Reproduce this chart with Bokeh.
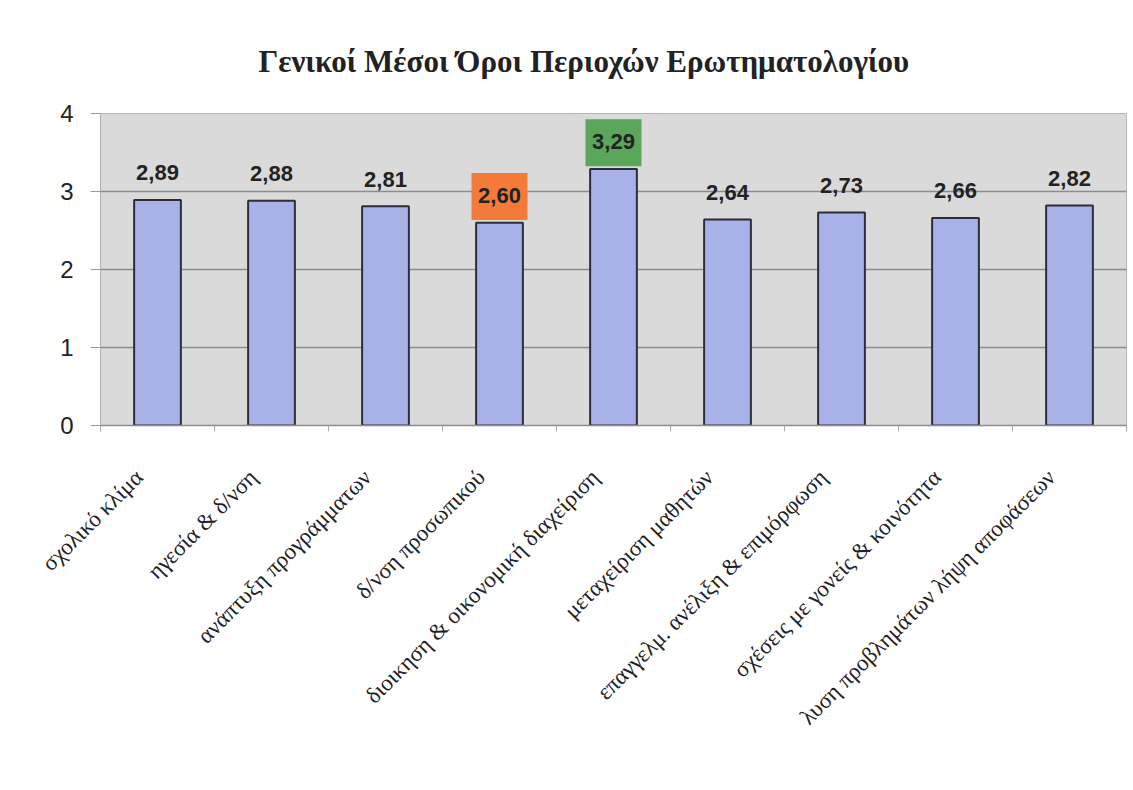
import math
from bokeh.plotting import figure
from bokeh.models import ColumnDataSource, Range1d, FixedTicker
from bokeh.transform import dodge
from bokeh.core.properties import value
from bokeh.embed import file_html
from bokeh.resources import INLINE

title = "Γενικοί Μέσοι Όροι Περιοχών Ερωτηματολογίου"
categories = [
    "σχολικό κλίμα",
    "ηγεσία & δ/νση",
    "ανάπτυξη προγράμματων",
    "δ/νση προσωπικού",
    "διοικηση & οικονομική διαχείριση",
    "μεταχείριση μαθητών",
    "επαγγελμ. ανέλιξη & επιμόρφωση",
    "σχέσεις με γονείς & κοινότητα",
    "λυση προβλημάτων λήψη αποφάσεων",
]
values = [2.89, 2.88, 2.81, 2.60, 3.29, 2.64, 2.73, 2.66, 2.82]
highlight = {"2,60": "#f47a3a", "3,29": "#5aa65a"}
y_ticks = [0, 1, 2, 3, 4]

n = len(categories)
pos = [i + 0.5 for i in range(n)]  # slot centres on a numeric category axis
labels = [f"{v:.2f}".replace(".", ",") for v in values]
src = ColumnDataSource(dict(x=pos, val=values, lab=labels))
hl_idx = [i for i, l in enumerate(labels) if l in highlight]
hsrc = ColumnDataSource(dict(
    x=[pos[i] for i in hl_idx],
    val=[values[i] for i in hl_idx],
    color=[highlight[labels[i]] for i in hl_idx],
))

W, H = 1130, 785
p = figure(width=W, height=H, x_range=Range1d(0, n), y_range=Range1d(0, 4),
           output_backend="svg", toolbar_location=None,
           min_border_left=100, min_border_right=W - 1126, min_border_top=113,
           min_border_bottom=H - 425)

p.title.text = title
p.title.text_font = "Liberation Serif"
p.title.text_font_size = "31px"
p.title.text_font_style = "bold"
p.title.text_color = "#222222"
p.title.align = "left"
p.title.standoff = 69
p.title.offset = 158

p.background_fill_color = "#dadada"
p.border_fill_color = "white"
p.outline_line_color = "#b5b5b5"

p.vbar(x="x", top="val", width=0.41, source=src, fill_color="#a9b1e9",
       line_color="#2b2d3a", line_width=2)

p.rect(x="x", y=dodge("val", 0.335), width=56, height=47, width_units="screen",
       height_units="screen", source=hsrc, fill_color="color", line_color=None)

p.text(x="x", y=dodge("val", 0.35), text="lab", source=src, text_align="center",
       text_baseline="middle", text_font=value("Liberation Sans"), text_font_size="22px",
       text_font_style="bold", text_color="#222222")

p.xgrid.grid_line_color = None
p.ygrid.grid_line_color = "#8c8c8c"
p.ygrid.grid_line_width = 1.5
p.yaxis.ticker = FixedTicker(ticks=y_ticks)

p.yaxis.major_label_text_font = "Liberation Sans"
p.yaxis.major_label_text_font_size = "24px"
p.yaxis.major_label_text_color = "#222222"
p.yaxis.axis_line_color = "#b0b0b0"
p.yaxis.major_tick_line_color = "#999999"
p.yaxis.major_tick_out = 10
p.yaxis.major_tick_in = 0
p.yaxis.minor_tick_line_color = None
p.yaxis.major_label_standoff = 17

# rotated labels end slightly left of each bar in the original, so their
# (invisible) ticks are nudged left; boundary ticks are drawn as minor ticks
label_shift = 0.16
lab_ticks = [c - label_shift for c in pos]
p.xaxis.ticker = FixedTicker(ticks=lab_ticks, minor_ticks=list(range(n + 1)))
p.xaxis.major_label_overrides = {t: name for t, name in zip(lab_ticks, categories)}
p.xaxis.axis_line_color = "#8c8c8c"
p.xaxis.axis_line_width = 1.5
p.xaxis.major_tick_line_color = None
p.xaxis.minor_tick_line_color = "#aaaaaa"
p.xaxis.minor_tick_out = 6
p.xaxis.minor_tick_in = 0
p.xaxis.major_label_orientation = math.pi / 4
p.xaxis.major_label_text_font = "Liberation Serif"
p.xaxis.major_label_text_font_size = "23px"
p.xaxis.major_label_text_color = "#222222"
p.xaxis.major_label_standoff = 42

open("out.html", "w").write(file_html(p, INLINE))
